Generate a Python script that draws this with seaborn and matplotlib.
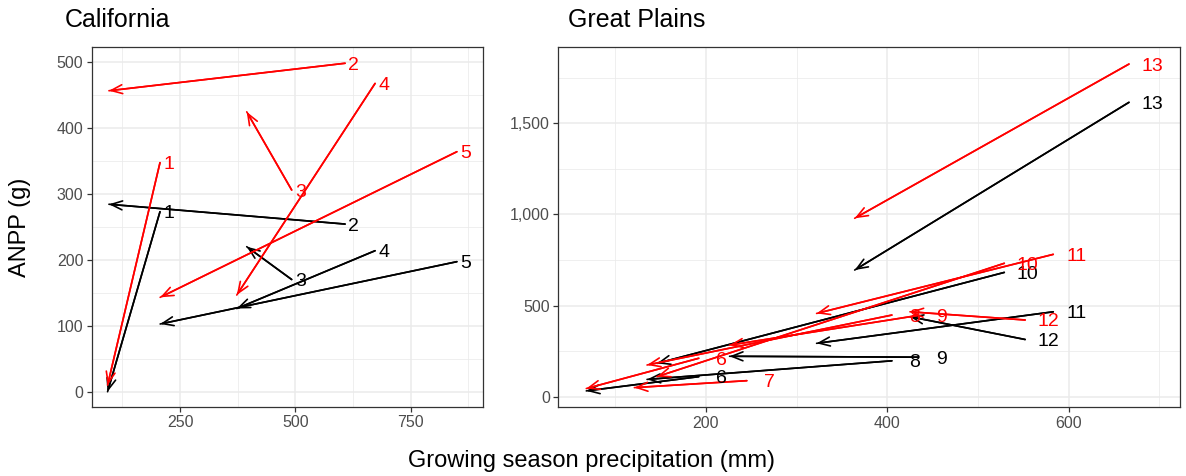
import numpy as np
import pandas as pd
import matplotlib
matplotlib.use("Agg")
import matplotlib.pyplot as plt
from matplotlib.ticker import FuncFormatter, MultipleLocator
import seaborn as sns

# ---------------- data ----------------
cal_sites = ["1", "2", "3", "4", "5"]
cal_precip_start = [206.6, 607.7, 492.0, 672.7, 850.0]
cal_precip_end = [93.0, 96.0, 394.6, 373.0, 207.0]
cal_red_start = [347.0, 497.6, 305.6, 467.0, 363.6]
cal_red_end = [10.0, 456.0, 424.0, 146.5, 143.0]
cal_black_start = [272.7, 254.0, 170.0, 213.6, 197.0]
cal_black_end = [0.0, 284.0, 219.7, 126.0, 102.6]

gp_sites = ["6", "7", "8", "9", "10", "11", "12", "13"]
gp_precip_start = [192.0, 245.0, 405.0, 434.0, 529.0, 583.0, 552.0, 666.5]
gp_precip_end = [68.0, 121.0, 135.0, 226.0, 146.0, 322.0, 425.0, 364.0]
gp_red_start = [211.0, 88.0, 448.0, 446.0, 732.0, 781.0, 421.0, 1825.0]
gp_red_end = [45.0, 50.0, 174.0, 283.0, 110.0, 457.0, 466.0, 979.0]
gp_black_start = [110.0, np.nan, 197.0, 217.0, 682.0, 466.0, 314.0, 1615.0]
gp_black_end = [32.0, np.nan, 95.0, 222.0, 183.0, 293.0, 439.0, 695.0]

x_title = "Growing season precipitation (mm)"
y_title = "ANPP (g)"


def seg_frame(sites, xs, xe, ys, ye):
    rows = []
    for s, a, b, c, d in zip(sites, xs, xe, ys, ye):
        if np.isnan(c) or np.isnan(d):
            continue
        rows.append(dict(site=s, precip=a, anpp=c, order=0))
        rows.append(dict(site=s, precip=b, anpp=d, order=1))
    return pd.DataFrame(rows)


# ---------------- style ----------------
sns.set_theme(style="white")
plt.rcParams["font.family"] = ["Liberation Sans", "DejaVu Sans"]
plt.rcParams["text.color"] = "black"

W, H = 1186, 476
fig = plt.figure(figsize=(W / 100, H / 100), dpi=100)
ax1 = fig.add_axes([91.7 / W, 1 - 406.7 / H, 391 / W, 360 / H])
ax2 = fig.add_axes([558.3 / W, 1 - 407.3 / H, 621.7 / W, 360 / H])

GRID = "#EBEBEB"


def style_axis(ax, xlim, ylim, xmaj, xmin, ymaj, ymin, comma=False):
    ax.set_xlim(*xlim)
    ax.set_ylim(*ylim)
    ax.xaxis.set_major_locator(MultipleLocator(xmaj))
    ax.xaxis.set_minor_locator(MultipleLocator(xmin))
    ax.yaxis.set_major_locator(MultipleLocator(ymaj))
    ax.yaxis.set_minor_locator(MultipleLocator(ymin))
    ax.grid(True, which="major", color=GRID, lw=1.1, zorder=0)
    ax.grid(True, which="minor", color=GRID, lw=0.55, zorder=0)
    ax.set_axisbelow(True)
    for sp in ax.spines.values():
        sp.set_visible(True)
        sp.set_color("#333333")
        sp.set_linewidth(0.9)
    ax.tick_params(which="major", length=3.5, width=0.9, color="#333333",
                   labelsize=11.5, labelcolor="#4D4D4D", pad=2.5,
                   bottom=True, left=True)
    ax.tick_params(which="minor", length=0, bottom=False, left=False)
    if comma:
        ax.yaxis.set_major_formatter(FuncFormatter(lambda v, p: f"{v:,.0f}"))
    ax.set_xlabel("")
    ax.set_ylabel("")


def draw_panel(ax, sites, xs, xe, ys_list, ye_list, label_dx):
    for color, ys, ye, zl in zip(["black", "red"], ys_list, ye_list, [2, 4]):
        df = seg_frame(sites, xs, xe, ys, ye)
        sns.lineplot(data=df, x="precip", y="anpp", units="site",
                     estimator=None, sort=False, color=color, lw=1.2,
                     ax=ax, legend=False, zorder=zl)
        for s, a, b, c, d in zip(sites, xs, xe, ys, ye):
            if np.isnan(c) or np.isnan(d):
                continue
            ax.annotate("", xy=(b, d), xytext=(a, c),
                        arrowprops=dict(arrowstyle="->,head_length=0.8,head_width=0.32",
                                        color=color, lw=1.2, shrinkA=0, shrinkB=0,
                                        mutation_scale=10),
                        zorder=zl + 1)
    for color, ys, zt in zip(["black", "red"], ys_list, [6, 7]):
        for s, a, c in zip(sites, xs, ys):
            if np.isnan(c):
                continue
            ax.annotate(s, xy=(a, c), xytext=(label_dx, 0),
                        textcoords="offset points", ha="center",
                        va="center_baseline", fontsize=14, color=color,
                        zorder=zt)


draw_panel(ax1, cal_sites, cal_precip_start, cal_precip_end,
           [cal_black_start, cal_red_start], [cal_black_end, cal_red_end], 6.3)
draw_panel(ax2, gp_sites, gp_precip_start, gp_precip_end,
           [gp_black_start, gp_red_start], [gp_black_end, gp_red_end], 16.6)

style_axis(ax1, (58.6, 906), (-22.7, 522.7), 250, 125, 100, 50)
style_axis(ax2, (37.1, 722.8), (-58, 1917), 200, 100, 500, 250, comma=True)

fig.text(65 / W, 1 - 20 / H, "California", ha="left", va="center",
         fontsize=18, color="black")
fig.text(568 / W, 1 - 20 / H, "Great Plains", ha="left", va="center",
         fontsize=18, color="black")
fig.text(20 / W, 1 - 227 / H, y_title, rotation=90, ha="center", va="center",
         fontsize=17, color="black")
fig.text(591 / W, 1 - 461 / H, x_title, ha="center", va="center",
         fontsize=17, color="black")

fig.savefig("out.png", dpi=100)
